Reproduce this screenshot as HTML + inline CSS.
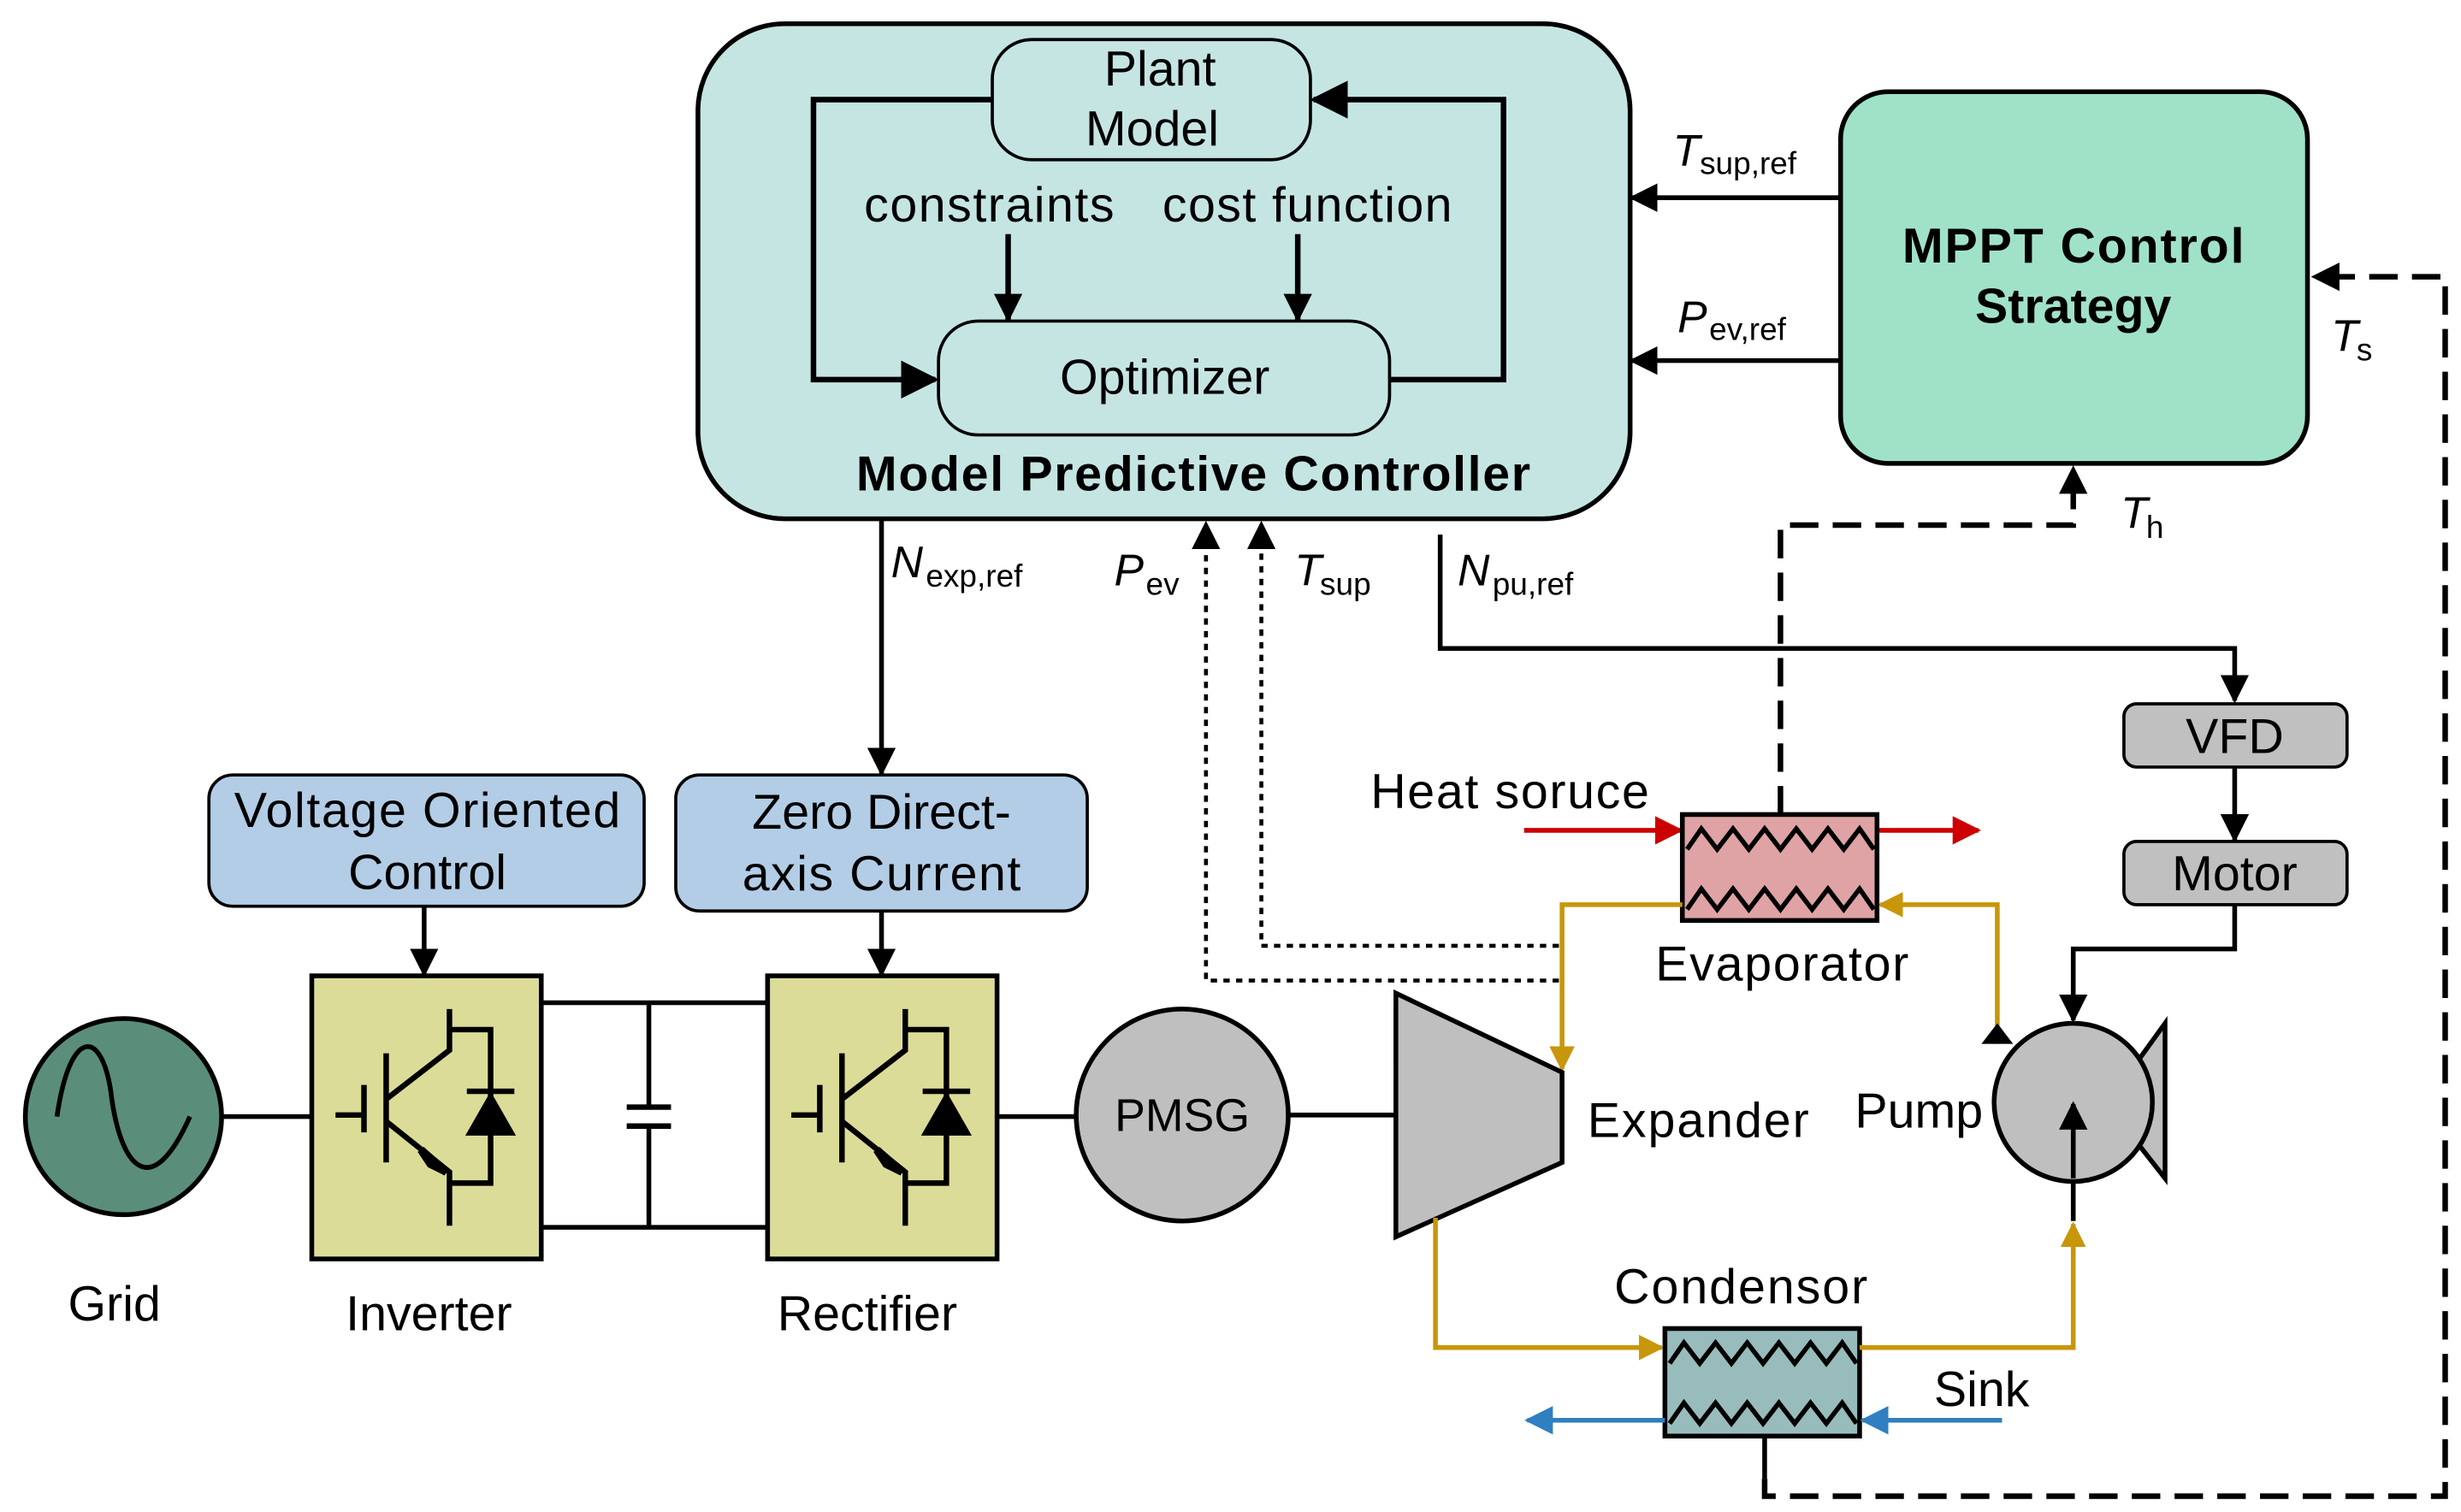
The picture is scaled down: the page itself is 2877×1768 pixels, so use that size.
<!DOCTYPE html>
<html><head><meta charset="utf-8"><style>
html,body{margin:0;padding:0;background:#fff;}
svg{display:block;}
text{font-family:"Liberation Sans",sans-serif;fill:#000;}
</style></head><body>
<svg width="2877" height="1768" viewBox="0 0 1555 956" preserveAspectRatio="none" xmlns="http://www.w3.org/2000/svg">
<defs>
<marker id="ahL" viewBox="0 0 10 10" refX="9" refY="5" markerWidth="24" markerHeight="24" orient="auto" markerUnits="userSpaceOnUse"><path d="M0,0 L10,5 L0,10 z" fill="#000"/></marker>
<marker id="ahG" viewBox="0 0 10 10" refX="9" refY="5" markerWidth="16" markerHeight="16" orient="auto" markerUnits="userSpaceOnUse"><path d="M0,0 L10,5 L0,10 z" fill="#c8960a"/></marker>
<marker id="ahR" viewBox="0 0 10 10" refX="9" refY="5" markerWidth="18" markerHeight="18" orient="auto" markerUnits="userSpaceOnUse"><path d="M0,0 L10,5 L0,10 z" fill="#cc0000"/></marker>
<marker id="ahBl" viewBox="0 0 10 10" refX="9" refY="5" markerWidth="18" markerHeight="18" orient="auto" markerUnits="userSpaceOnUse"><path d="M0,0 L10,5 L0,10 z" fill="#2f7fc1"/></marker>
<marker id="ahM" viewBox="0 0 10 10" refX="9" refY="5" markerWidth="18" markerHeight="18" orient="auto" markerUnits="userSpaceOnUse"><path d="M0,0 L10,5 L0,10 z" fill="#000"/></marker>
</defs>

<!-- MPC -->
<rect x="441" y="15" width="589" height="313" rx="55" fill="#c5e5e3" stroke="#000" stroke-width="3"/>
<rect x="627" y="25" width="201" height="76" rx="25" fill="#c5e5e3" stroke="#000" stroke-width="2"/>
<text x="733" y="54" font-size="31" text-anchor="middle">Plant</text>
<text x="728" y="92" font-size="31" text-anchor="middle">Model</text>
<rect x="593" y="203" width="285" height="72" rx="25" fill="#c5e5e3" stroke="#000" stroke-width="2"/>
<text x="736" y="249" font-size="31" text-anchor="middle">Optimizer</text>
<text x="625" y="140" font-size="31" text-anchor="middle" textLength="158">constraints</text>
<text x="826" y="140" font-size="31" text-anchor="middle" textLength="183">cost function</text>
<polyline points="627,63 514,63 514,240 591,240" fill="none" stroke="#000" stroke-width="3.5" marker-end="url(#ahL)"/>
<polyline points="878,240 950,240 950,63 830,63" fill="none" stroke="#000" stroke-width="3.5" marker-end="url(#ahL)"/>
<line x1="637" y1="148" x2="637" y2="202" stroke="#000" stroke-width="3.5" marker-end="url(#ahM)"/>
<line x1="820" y1="148" x2="820" y2="202" stroke="#000" stroke-width="3.5" marker-end="url(#ahM)"/>
<text x="754" y="310" font-size="31" font-weight="bold" text-anchor="middle" textLength="426">Model Predictive Controller</text>

<!-- MPPT -->
<rect x="1163" y="58" width="295" height="235" rx="30" fill="#a0e2c8" stroke="#000" stroke-width="3"/>
<text x="1310" y="166" font-size="31" font-weight="bold" text-anchor="middle" textLength="216">MPPT Control</text>
<text x="1310" y="204" font-size="31" font-weight="bold" text-anchor="middle">Strategy</text>
<line x1="1163" y1="125" x2="1031" y2="125" stroke="#000" stroke-width="3" marker-end="url(#ahM)"/>
<line x1="1163" y1="228" x2="1031" y2="228" stroke="#000" stroke-width="3" marker-end="url(#ahM)"/>
<text x="1057" y="105" font-size="28" font-style="italic">T</text><text x="1074" y="110" font-size="20">sup,ref</text>
<text x="1060" y="210" font-size="28" font-style="italic">P</text><text x="1080" y="215" font-size="20">ev,ref</text>

<!-- dashed feedback -->
<polyline points="1115,935 1115,946 1545,946 1545,175 1462,175" fill="none" stroke="#000" stroke-width="3.5" stroke-dasharray="18,9" marker-end="url(#ahM)"/>
<text x="1473" y="222" font-size="28" font-style="italic">T</text><text x="1489" y="228" font-size="20">s</text>
<polyline points="1125,515 1125,332 1310,332 1310,296" fill="none" stroke="#000" stroke-width="3.5" stroke-dasharray="18,9" marker-end="url(#ahM)"/>
<text x="1340" y="334" font-size="28" font-style="italic">T</text><text x="1356" y="340" font-size="20">h</text>

<!-- N_exp -->
<line x1="557" y1="328" x2="557" y2="489" stroke="#000" stroke-width="3" marker-end="url(#ahM)"/>
<text x="563" y="365" font-size="28" font-style="italic">N</text><text x="585" y="371" font-size="20">exp,ref</text>
<polyline points="985,620 762,620 762,331" fill="none" stroke="#000" stroke-width="2.5" stroke-dasharray="4,4" marker-end="url(#ahM)"/>
<polyline points="985,598 797,598 797,331" fill="none" stroke="#000" stroke-width="2.5" stroke-dasharray="4,4" marker-end="url(#ahM)"/>
<text x="704" y="370" font-size="28" font-style="italic">P</text><text x="724" y="376" font-size="20">ev</text>
<text x="818" y="370" font-size="28" font-style="italic">T</text><text x="834" y="376" font-size="20">sup</text>
<polyline points="910,338 910,410 1412,410 1412,443" fill="none" stroke="#000" stroke-width="3" marker-end="url(#ahM)"/>
<text x="921" y="370" font-size="28" font-style="italic">N</text><text x="943" y="376" font-size="20">pu,ref</text>

<!-- VFD Motor -->
<rect x="1342" y="445" width="141" height="40" rx="8" fill="#c0c0c0" stroke="#000" stroke-width="2"/>
<text x="1412" y="476" font-size="31" text-anchor="middle">VFD</text>
<line x1="1412" y1="485" x2="1412" y2="531" stroke="#000" stroke-width="3" marker-end="url(#ahM)"/>
<rect x="1342" y="532" width="141" height="40" rx="8" fill="#c0c0c0" stroke="#000" stroke-width="2"/>
<text x="1412" y="563" font-size="31" text-anchor="middle">Motor</text>
<polyline points="1412,572 1412,600 1310,600 1310,645" fill="none" stroke="#000" stroke-width="3" marker-end="url(#ahM)"/>

<!-- Pump -->
<polygon points="1350,672 1368,647 1368,745 1350,722" fill="#bfbfbf" stroke="#000" stroke-width="3"/>
<circle cx="1310" cy="697" r="50" fill="#bfbfbf" stroke="#000" stroke-width="3"/>
<line x1="1310" y1="745" x2="1310" y2="698" stroke="#000" stroke-width="3" marker-end="url(#ahM)"/>
<line x1="1310" y1="772" x2="1310" y2="746" stroke="#000" stroke-width="3"/>
<text x="1172" y="713" font-size="31">Pump</text>
<polyline points="1262,660 1262,572 1188,572" fill="none" stroke="#c8960a" stroke-width="3" marker-end="url(#ahG)"/>
<polygon points="1262,647 1252,660 1272,660" fill="#000"/>

<!-- Evaporator -->
<line x1="963" y1="525" x2="1062" y2="525" stroke="#cc0000" stroke-width="3" marker-end="url(#ahR)"/>
<line x1="1186" y1="525" x2="1250" y2="525" stroke="#cc0000" stroke-width="3" marker-end="url(#ahR)"/>
<rect x="1063" y="515" width="123" height="67" fill="#dfa3a5" stroke="#000" stroke-width="3"/>
<polyline points="1066,537 1075,524 1085,537 1095,524 1105,537 1115,524 1125,537 1135,524 1145,537 1155,524 1165,537 1175,524 1184,537" fill="none" stroke="#000" stroke-width="3"/>
<polyline points="1066,575 1075,562 1085,575 1095,562 1105,575 1115,562 1125,575 1135,562 1145,575 1155,562 1165,575 1175,562 1184,575" fill="none" stroke="#000" stroke-width="3"/>
<text x="866" y="511" font-size="31" textLength="176">Heat soruce</text>
<text x="1046" y="620" font-size="31" textLength="160">Evaporator</text>
<polyline points="1063,572 987,572 987,676" fill="none" stroke="#c8960a" stroke-width="3" marker-end="url(#ahG)"/>

<!-- Expander -->
<polygon points="882,628 987,678 987,735 882,782" fill="#bfbfbf" stroke="#000" stroke-width="3"/>
<text x="1003" y="719" font-size="31" textLength="140">Expander</text>
<line x1="814" y1="705" x2="882" y2="705" stroke="#000" stroke-width="3"/>
<polyline points="907,770 907,852 1050,852" fill="none" stroke="#c8960a" stroke-width="3" marker-end="url(#ahG)"/>

<!-- Condenser -->
<rect x="1052" y="840" width="123" height="68" fill="#98bcbc" stroke="#000" stroke-width="3"/>
<polyline points="1055,862 1064,849 1074,862 1084,849 1094,862 1104,849 1114,862 1124,849 1134,862 1144,849 1154,862 1164,849 1173,862" fill="none" stroke="#000" stroke-width="3"/>
<polyline points="1055,900 1064,887 1074,900 1084,887 1094,900 1104,887 1114,900 1124,887 1134,900 1144,887 1154,900 1164,887 1173,900" fill="none" stroke="#000" stroke-width="3"/>
<polyline points="1175,852 1310,852 1310,774" fill="none" stroke="#c8960a" stroke-width="3" marker-end="url(#ahG)"/>
<line x1="1265" y1="898" x2="1177" y2="898" stroke="#2f7fc1" stroke-width="3" marker-end="url(#ahBl)"/>
<line x1="1052" y1="898" x2="965" y2="898" stroke="#2f7fc1" stroke-width="3" marker-end="url(#ahBl)"/>
<line x1="1115" y1="908" x2="1115" y2="935" stroke="#000" stroke-width="3"/>
<text x="1222" y="889" font-size="31">Sink</text>
<text x="1020" y="824" font-size="31" textLength="160">Condensor</text>

<!-- PMSG -->
<line x1="630" y1="706" x2="680" y2="706" stroke="#000" stroke-width="3"/>
<circle cx="747" cy="705" r="67" fill="#bfbfbf" stroke="#000" stroke-width="3"/>
<text x="747" y="715" font-size="29" text-anchor="middle">PMSG</text>

<!-- Grid -->
<circle cx="78" cy="706" r="62" fill="#5a8e7a" stroke="#000" stroke-width="3"/>
<path d="M36,706 C44,650 64,650 70,690 C76,740 96,760 120,706" fill="none" stroke="#000" stroke-width="3"/>
<line x1="140" y1="706" x2="197" y2="706" stroke="#000" stroke-width="3"/>
<text x="43" y="835" font-size="31">Grid</text>

<!-- DC link -->
<line x1="342" y1="634" x2="485" y2="634" stroke="#000" stroke-width="3"/>
<line x1="342" y1="776" x2="485" y2="776" stroke="#000" stroke-width="3"/>
<line x1="410" y1="634" x2="410" y2="700" stroke="#000" stroke-width="3"/>
<line x1="410" y1="712" x2="410" y2="776" stroke="#000" stroke-width="3"/>
<line x1="396" y1="700" x2="424" y2="700" stroke="#000" stroke-width="3.5"/>
<line x1="396" y1="712" x2="424" y2="712" stroke="#000" stroke-width="3.5"/>

<!-- Inverter -->
<rect x="197" y="617" width="145" height="179" fill="#dcdc99" stroke="#000" stroke-width="3"/>
<g fill="none" stroke="#000" stroke-width="3.5">
<line x1="212" y1="705" x2="230" y2="705"/><line x1="230" y1="686" x2="230" y2="716"/>
<line x1="244" y1="666" x2="244" y2="735"/>
<polyline points="244,695 284,664 284,638"/><polyline points="284,651 310,651 310,748 284,748"/>
<polyline points="244,709 284,741 284,775"/>
<line x1="295" y1="690" x2="325" y2="690"/>
</g>
<polygon points="310,690 294,718 326,718" fill="#000"/>
<polygon points="282,741 266,727 272,736" fill="#000" stroke="#000" stroke-width="5"/>
<!-- Rectifier -->
<rect x="485" y="617" width="145" height="179" fill="#dcdc99" stroke="#000" stroke-width="3"/>
<g transform="translate(288,0)">
<g fill="none" stroke="#000" stroke-width="3.5">
<line x1="212" y1="705" x2="230" y2="705"/><line x1="230" y1="686" x2="230" y2="716"/>
<line x1="244" y1="666" x2="244" y2="735"/>
<polyline points="244,695 284,664 284,638"/><polyline points="284,651 310,651 310,748 284,748"/>
<polyline points="244,709 284,741 284,775"/>
<line x1="295" y1="690" x2="325" y2="690"/>
</g>
<polygon points="310,690 294,718 326,718" fill="#000"/>
<polygon points="282,741 266,727 272,736" fill="#000" stroke="#000" stroke-width="5"/>
</g>
<text x="271" y="841" font-size="31" text-anchor="middle">Inverter</text>
<text x="548" y="841" font-size="31" text-anchor="middle">Rectifier</text>

<!-- VOC / ZDC -->
<rect x="132" y="490" width="275" height="83" rx="15" fill="#b3cde6" stroke="#000" stroke-width="2"/>
<text x="270" y="523" font-size="31" text-anchor="middle" textLength="244">Voltage Oriented</text>
<text x="270" y="562" font-size="31" text-anchor="middle">Control</text>
<line x1="268" y1="573" x2="268" y2="616" stroke="#000" stroke-width="3" marker-end="url(#ahM)"/>
<rect x="427" y="490" width="260" height="86" rx="15" fill="#b3cde6" stroke="#000" stroke-width="2"/>
<text x="557" y="524" font-size="31" text-anchor="middle">Zero Direct-</text>
<text x="557" y="563" font-size="31" text-anchor="middle" textLength="176">axis Current</text>
<line x1="557" y1="576" x2="557" y2="616" stroke="#000" stroke-width="3" marker-end="url(#ahM)"/>
</svg>
</body></html>
